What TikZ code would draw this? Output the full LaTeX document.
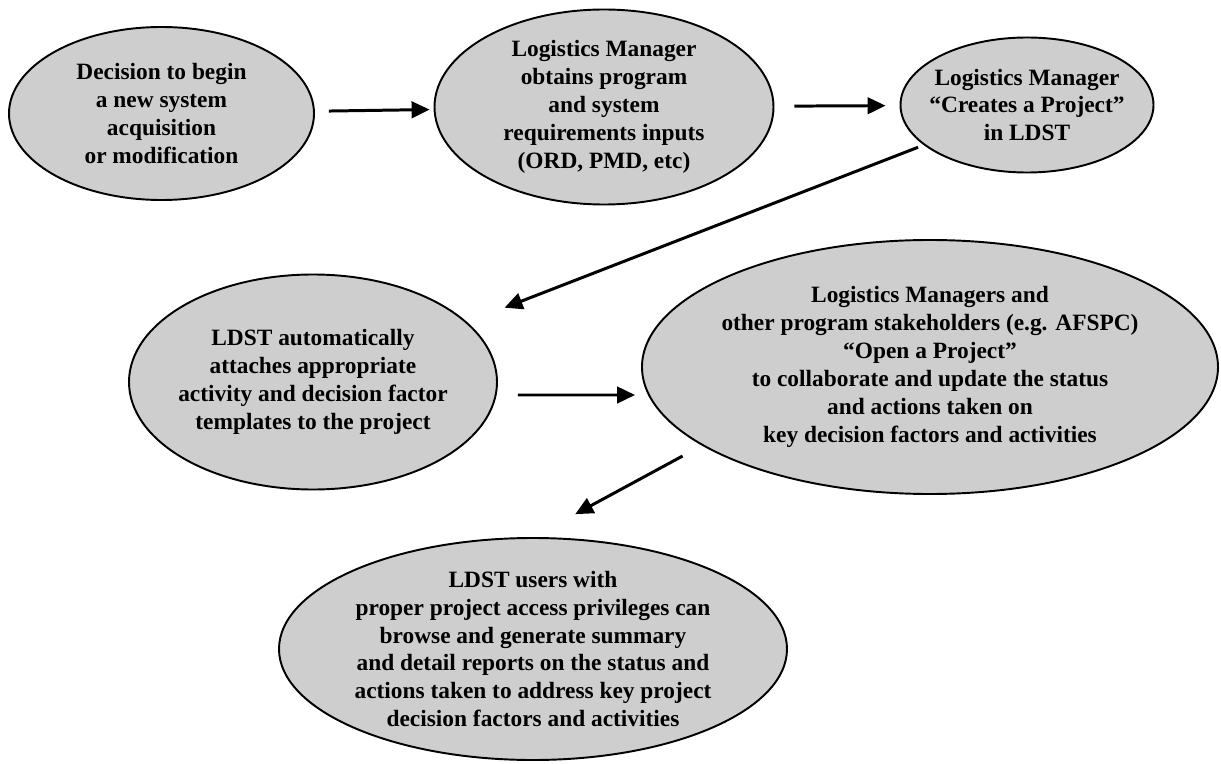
\documentclass[tikz,border=0pt]{standalone}
\usepackage{fontspec}
\setmainfont{Liberation Serif}
\usepackage{tikz}
\usetikzlibrary{arrows.meta,shapes.geometric,positioning}
\definecolor{ldstGray}{RGB}{206,206,206}

\begin{document}
\begin{tikzpicture}[
        st/.style={ellipse,draw=black,fill=ldstGray,line width=1.1pt,
                   inner xsep=-3mm,inner ysep=-2mm,align=center,
                   font=\bfseries\fontsize{13.3}{15.9}\selectfont},
        ar/.style={draw=black,line width=1.7pt,
                   -{Triangle[length=3.6mm,width=3.3mm]}}]

  \useasboundingbox (0,0) rectangle (24.42,15.26);

  \node[st,minimum width=6.10cm,minimum height=3.46cm] (dec) at (3.23,12.99)
       {Decision to begin\\a new system\\acquisition\\or modification};
  \node[st,minimum width=6.78cm,minimum height=3.90cm] (obt) at (12.08,13.12)
       {Logistics Manager\\obtains program\\and system\\requirements inputs\\(ORD, PMD, etc)};
  \node[st,minimum width=5.06cm,minimum height=2.70cm] (crt) at (20.54,13.16)
       {Logistics Manager\\“Creates a Project”\\in LDST};
  \node[st,minimum width=7.36cm,minimum height=4.30cm] (att) at (6.26,7.62)
       {LDST automatically\\attaches appropriate\\activity and decision factor\\templates to the project};
  \node[st,minimum width=11.52cm,minimum height=5.08cm] (opn) at (18.60,7.92)
       {Logistics Managers and\\other program stakeholders (e.g. AFSPC)\\“Open a Project”\\to collaborate and update the status\\and actions taken on\\key decision factors and activities};
  \node[st,minimum width=10.16cm,minimum height=4.44cm] (usr) at (10.66,2.28)
       {LDST users with\\proper project access privileges can\\browse and generate summary\\and detail reports on the status and\\actions taken to address key project\\decision factors and activities};

  % flow
  \draw[ar,shorten <=2.8mm,shorten >=0.8mm] (dec) -- (obt);
  \draw[ar,shorten <=4mm,shorten >=2.8mm] (obt) -- (crt);
  \draw[ar,shorten <=1.2mm,shorten >=8mm] (crt) -- (att);
  \draw[ar,shorten <=4mm,shorten >=1.2mm] ([yshift=-2.6mm]att.east) -- ([yshift=-5.6mm]opn.west);
  \draw[ar,shorten <=4.4mm,shorten >=9.6mm] (opn.199) -- (usr.north);
\end{tikzpicture}
\end{document}
